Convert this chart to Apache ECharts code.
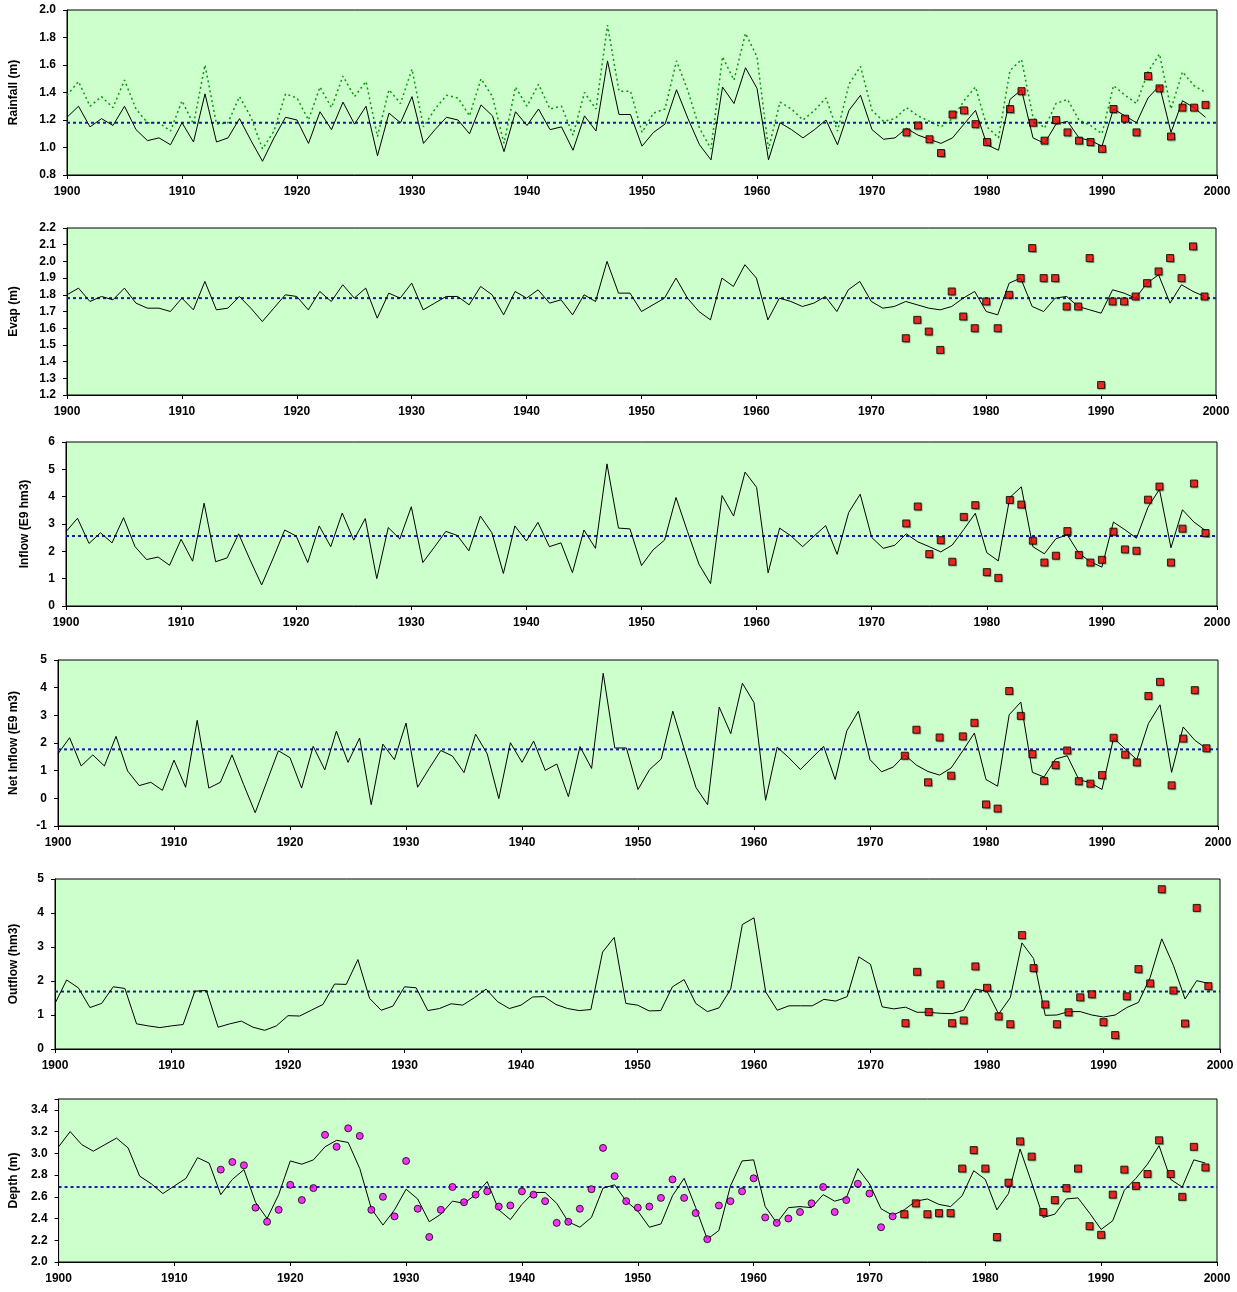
<!DOCTYPE html>
<html>
<head>
<meta charset="utf-8">
<script src="https://cdn.jsdelivr.net/npm/echarts/dist/echarts.min.js"></script>
<style>
  html, body { margin: 0; padding: 0; background: #ffffff; }
  #chart { width: 1237px; height: 1292px; }
</style>
</head>
<body>
<div id="chart"></div>
<script>
// Lake water balance, 1900-1999: modelled series (lines), observations (markers), long-term means (dotted).
const years = [];
for (let y = 1900; y <= 1999; y++) years.push(y);
const obsYears = [];
for (let y = 1973; y <= 1999; y++) obsYears.push(y);
const histDepthYears = [];
for (let y = 1914; y <= 1972; y++) histDepthYears.push(y);

// Rainfall (m)
const rainModel = [
  1.22,1.30,1.15,1.21,1.16,1.30,1.13,1.05,1.07,1.02,
  1.18,1.04,1.39,1.04,1.07,1.21,1.05,0.90,1.07,1.22,
  1.20,1.03,1.26,1.13,1.33,1.17,1.30,0.94,1.25,1.18,
  1.37,1.03,1.13,1.22,1.20,1.10,1.31,1.23,0.97,1.26,
  1.16,1.28,1.13,1.15,0.98,1.23,1.12,1.63,1.24,1.24,
  1.01,1.11,1.17,1.42,1.21,1.02,0.91,1.44,1.32,1.58,
  1.43,0.91,1.18,1.13,1.07,1.13,1.20,1.02,1.27,1.38,
  1.13,1.06,1.07,1.14,1.09,1.06,1.03,1.07,1.17,1.27,
  1.02,0.98,1.35,1.42,1.07,1.03,1.17,1.19,1.07,1.05,
  1.01,1.28,1.23,1.18,1.36,1.45,1.11,1.34,1.29,1.22
];
const rainLake = [
  1.38,1.48,1.30,1.37,1.29,1.49,1.28,1.18,1.18,1.12,
  1.34,1.17,1.60,1.17,1.18,1.37,1.22,0.99,1.12,1.39,
  1.36,1.20,1.44,1.29,1.52,1.37,1.48,1.08,1.42,1.32,
  1.57,1.15,1.28,1.38,1.36,1.23,1.50,1.37,1.03,1.44,
  1.30,1.46,1.28,1.30,1.09,1.40,1.28,1.89,1.41,1.41,
  1.11,1.25,1.28,1.63,1.41,1.14,0.99,1.66,1.49,1.83,
  1.66,0.99,1.33,1.28,1.20,1.27,1.36,1.12,1.46,1.59,
  1.27,1.19,1.21,1.29,1.23,1.19,1.15,1.21,1.34,1.44,
  1.15,1.07,1.56,1.64,1.22,1.14,1.32,1.35,1.20,1.16,
  1.10,1.45,1.38,1.32,1.55,1.68,1.28,1.55,1.45,1.40
];
const rainObs = [
  1.11,1.16,1.06,0.96,1.24,1.27,1.17,1.04,null,1.28,1.41,1.18,1.05,1.20,
  1.11,1.05,1.04,0.99,1.28,1.21,1.11,1.52,1.43,1.08,1.29,1.29,1.31
];
const rainMean = 1.18;

// Evaporation (m)
const evapModel = [
  1.80,1.84,1.76,1.79,1.77,1.84,1.75,1.72,1.72,1.70,
  1.78,1.71,1.88,1.71,1.72,1.79,1.72,1.64,1.72,1.80,
  1.79,1.71,1.82,1.76,1.86,1.78,1.84,1.66,1.81,1.78,
  1.87,1.71,1.75,1.79,1.79,1.74,1.85,1.80,1.68,1.82,
  1.78,1.83,1.75,1.77,1.68,1.80,1.76,2.00,1.81,1.81,
  1.70,1.74,1.78,1.90,1.78,1.70,1.65,1.90,1.85,1.98,
  1.90,1.65,1.78,1.76,1.73,1.75,1.79,1.70,1.83,1.88,
  1.76,1.72,1.73,1.76,1.74,1.72,1.71,1.73,1.78,1.82,
  1.70,1.68,1.87,1.90,1.73,1.70,1.78,1.79,1.73,1.71,
  1.69,1.83,1.81,1.78,1.87,1.92,1.75,1.86,1.82,1.79
];
const evapObs = [
  1.54,1.65,1.58,1.47,1.82,1.67,1.60,1.76,1.60,1.80,1.90,2.08,1.90,1.90,
  1.73,1.73,2.02,1.26,1.76,1.76,1.79,1.87,1.94,2.02,1.90,2.09,1.79
];
const evapMean = 1.78;

// Inflow (E9 hm3)
const inflowModel = [
  2.72,3.21,2.29,2.68,2.31,3.23,2.17,1.70,1.79,1.49,
  2.44,1.64,3.76,1.62,1.76,2.64,1.68,0.77,1.75,2.78,
  2.56,1.59,2.93,2.17,3.40,2.41,3.20,1.00,2.87,2.45,
  3.63,1.59,2.15,2.73,2.58,2.02,3.29,2.68,1.19,2.93,
  2.38,3.06,2.17,2.31,1.22,2.78,2.11,5.20,2.85,2.82,
  1.48,2.05,2.41,3.97,2.72,1.52,0.82,4.04,3.29,4.90,
  4.34,1.21,2.85,2.56,2.17,2.56,2.94,1.89,3.42,4.09,
  2.51,2.11,2.22,2.64,2.35,2.17,1.98,2.23,2.80,3.39,
  1.95,1.65,3.97,4.36,2.17,1.91,2.46,2.60,1.93,1.62,
  1.42,3.07,2.79,2.48,3.61,4.27,2.13,3.52,3.07,2.76
];
const inflowObs = [
  3.02,3.64,1.90,2.41,1.62,3.26,3.69,1.24,1.03,3.88,3.71,2.39,1.59,1.84,
  2.74,1.87,1.59,1.69,2.72,2.07,2.02,3.89,4.37,1.59,2.83,4.48,2.67
];
const inflowMean = 2.56;

// Net inflow (E9 m3)
const netModel = [
  1.61,2.19,1.17,1.57,1.17,2.24,0.99,0.46,0.58,0.29,
  1.38,0.40,2.82,0.37,0.58,1.57,0.50,-0.52,0.60,1.72,
  1.47,0.37,1.88,1.03,2.43,1.30,2.18,-0.23,1.96,1.40,
  2.72,0.40,1.08,1.73,1.53,0.93,2.32,1.61,-0.01,2.01,
  1.30,2.07,1.01,1.24,0.06,1.87,1.08,4.52,1.82,1.82,
  0.32,1.04,1.42,3.15,1.76,0.39,-0.23,3.30,2.34,4.16,
  3.46,-0.07,1.85,1.47,1.04,1.46,1.88,0.68,2.44,3.15,
  1.40,0.96,1.13,1.57,1.20,0.97,0.84,1.10,1.72,2.36,
  0.68,0.44,3.02,3.48,0.94,0.77,1.42,1.54,0.68,0.56,
  0.32,2.18,1.78,1.40,2.70,3.38,0.94,2.58,2.10,1.80
];
const netObs = [
  1.54,2.48,0.58,2.20,0.82,2.24,2.73,-0.22,-0.37,3.88,2.98,1.60,0.63,1.20,
  1.73,0.62,0.53,0.84,2.19,1.58,1.30,3.70,4.21,0.47,2.16,3.91,1.81
];
const netMean = 1.77;

// Outflow (hm3)
const outflowModel = [
  1.34,2.03,1.80,1.22,1.34,1.83,1.78,0.74,0.68,0.63,
  0.68,0.72,1.70,1.72,0.64,0.74,0.82,0.64,0.55,0.68,
  0.98,0.97,1.14,1.31,1.91,1.90,2.63,1.49,1.14,1.26,
  1.83,1.80,1.13,1.19,1.33,1.29,1.51,1.76,1.39,1.19,
  1.29,1.53,1.54,1.31,1.19,1.13,1.16,2.85,3.28,1.34,
  1.29,1.12,1.13,1.83,2.04,1.34,1.10,1.21,1.76,3.66,
  3.86,1.68,1.14,1.27,1.27,1.27,1.46,1.41,1.54,2.71,
  2.49,1.24,1.18,1.23,1.08,1.08,1.05,1.04,1.14,1.76,
  1.70,1.03,1.51,3.12,2.66,0.99,1.00,1.10,1.10,1.00,
  0.94,1.00,1.22,1.37,2.10,3.24,2.46,1.47,2.01,1.93
];
const outflowObs = [
  0.76,2.27,1.09,1.90,0.76,0.84,2.43,1.80,0.96,0.73,3.35,2.38,1.31,0.73,
  1.08,1.52,1.61,0.79,0.41,1.55,2.35,1.93,4.70,1.72,0.75,4.15,1.85
];
const outflowMean = 1.69;

// Lake depth (m)
const depthModel = [
  3.06,3.20,3.08,3.02,3.08,3.14,3.05,2.79,2.72,2.63,
  2.70,2.77,2.96,2.91,2.62,2.76,2.85,2.55,2.40,2.62,
  2.93,2.90,2.94,3.06,3.12,3.10,2.86,2.49,2.34,2.48,
  2.67,2.58,2.37,2.44,2.56,2.54,2.62,2.74,2.48,2.39,
  2.53,2.64,2.64,2.54,2.37,2.32,2.41,2.68,2.71,2.56,
  2.47,2.32,2.35,2.61,2.77,2.50,2.21,2.29,2.70,2.93,
  2.94,2.51,2.36,2.50,2.51,2.50,2.62,2.56,2.59,2.86,
  2.72,2.49,2.43,2.48,2.56,2.58,2.53,2.51,2.61,2.84,
  2.76,2.48,2.63,3.04,2.73,2.41,2.44,2.58,2.59,2.45,
  2.30,2.38,2.66,2.77,2.90,3.07,2.76,2.69,2.94,2.91
];
const depthHist = [
  2.85,2.92,2.89,2.50,2.37,2.48,
  2.71,2.57,2.68,3.17,3.06,3.23,3.16,2.48,2.60,2.42,
  2.93,2.49,2.23,2.48,2.69,2.55,2.62,2.65,2.51,2.52,
  2.65,2.62,2.56,2.36,2.37,2.49,2.67,3.05,2.79,2.56,
  2.50,2.51,2.59,2.76,2.59,2.45,2.21,2.52,2.56,2.65,
  2.77,2.41,2.36,2.40,2.46,2.54,2.69,2.46,2.57,2.72,
  2.63,2.32,2.42
];
const depthObs = [
  2.44,2.54,2.44,2.45,2.45,2.86,3.03,2.86,2.23,2.73,3.11,2.97,2.46,2.57,
  2.68,2.86,2.33,2.25,2.62,2.85,2.70,2.81,3.12,2.81,2.60,3.06,2.87
];
const depthMean = 2.69;

// Axis titles and scales
const axisTitles = ['Rainfall (m)', 'Evap (m)', 'Inflow (E9 hm3)', 'Net Inflow (E9 m3)', 'Outflow (hm3)', 'Depth (m)'];
const yScales = [
  { min: 0.8, max: 2.0, interval: 0.2, digits: 1 },
  { min: 1.2, max: 2.2, interval: 0.1, digits: 1 },
  { min: 0, max: 6, interval: 1, digits: 0 },
  { min: -1, max: 5, interval: 1, digits: 0 },
  { min: 0, max: 5, interval: 1, digits: 0 },
  { min: 2.0, max: 3.5, interval: 0.2, digits: 1, lastLabel: 3.4 }
];

// Panel placement in pixels
const layout = [
  { left: 65, right: 20, top: 10,   height: 165, gap: 47 },
  { left: 65, right: 21, top: 228,  height: 167, gap: 47 },
  { left: 66, right: 20, top: 442,  height: 164, gap: 35 },
  { left: 58, right: 19, top: 660,  height: 166, gap: 38 },
  { left: 55, right: 17, top: 879,  height: 170, gap: 35 },
  { left: 54, right: 20, top: 1099, height: 163, gap: 36 }
];

const FONT = '"Liberation Sans", Arial, sans-serif';
const pairs = (xs, ys) => xs.map((x, i) => [x, ys[i]]).filter(p => p[1] !== null);

const grids = [], xAxes = [], yAxes = [], series = [];

layout.forEach((L, i) => {
  grids.push({
    left: L.left, right: L.right, top: L.top, height: L.height,
    show: true, backgroundColor: '#CCFFCC', borderColor: '#000000', borderWidth: 1
  });
  xAxes.push({
    type: 'value', gridIndex: i, min: 1900, max: 2000, interval: 10,
    axisLine: { show: true, onZero: false, lineStyle: { color: '#000', width: 1 } },
    axisTick: { show: true, length: 4, lineStyle: { color: '#000' } },
    axisLabel: { color: '#000', fontFamily: FONT, fontWeight: 'bold', fontSize: 12, margin: 11,
                 formatter: v => String(v) },
    splitLine: { show: false }
  });
  const S = yScales[i];
  yAxes.push({
    type: 'value', gridIndex: i, min: S.min, max: S.max, interval: S.interval,
    name: axisTitles[i], nameLocation: 'middle', nameRotate: 90, nameGap: L.gap,
    nameTextStyle: { color: '#000', fontFamily: FONT, fontWeight: 'bold', fontSize: 12 },
    axisLine: { show: true, onZero: false, lineStyle: { color: '#000', width: 1 } },
    axisTick: { show: true, length: 4, lineStyle: { color: '#000' } },
    axisLabel: {
      color: '#000', fontFamily: FONT, fontWeight: 'bold', fontSize: 12, margin: 11,
      formatter: v => (S.lastLabel !== undefined && v > S.lastLabel + 1e-6) ? '' : v.toFixed(S.digits)
    },
    splitLine: { show: false }
  });
});

const modelLine = (i, values) => ({
  type: 'line', xAxisIndex: i, yAxisIndex: i, data: pairs(years, values),
  symbol: 'none', z: 3,
  lineStyle: { color: '#000000', width: 1 }
});
const meanLine = (i, value) => ({
  type: 'line', xAxisIndex: i, yAxisIndex: i, data: [[1900, value], [2000, value]],
  symbol: 'none', z: 2,
  lineStyle: { color: '#1A1AA8', width: 2, type: [3, 3] }
});
const squares = (i, values) => ({
  type: 'scatter', xAxisIndex: i, yAxisIndex: i, data: pairs(obsYears, values),
  symbol: 'rect', symbolSize: 7, z: 5,
  itemStyle: { color: '#FF0000', borderColor: '#000000', borderWidth: 1,
               shadowColor: 'rgba(0,0,0,0.35)', shadowBlur: 1, shadowOffsetX: 1, shadowOffsetY: 1 }
});

// Rainfall panel also carries the on-lake rainfall as a green dotted line
series.push({
  type: 'line', xAxisIndex: 0, yAxisIndex: 0, data: pairs(years, rainLake),
  symbol: 'none', z: 2,
  lineStyle: { color: '#0A960A', width: 1.5, type: [2, 3] }
});
series.push(modelLine(0, rainModel), meanLine(0, rainMean), squares(0, rainObs));
series.push(modelLine(1, evapModel), meanLine(1, evapMean), squares(1, evapObs));
series.push(modelLine(2, inflowModel), meanLine(2, inflowMean), squares(2, inflowObs));
series.push(modelLine(3, netModel), meanLine(3, netMean), squares(3, netObs));
series.push(modelLine(4, outflowModel), meanLine(4, outflowMean), squares(4, outflowObs));
series.push(modelLine(5, depthModel), meanLine(5, depthMean));
series.push({
  type: 'scatter', xAxisIndex: 5, yAxisIndex: 5, data: pairs(histDepthYears, depthHist),
  symbol: 'circle', symbolSize: 7, z: 5,
  itemStyle: { color: '#FF00FF', borderColor: '#000000', borderWidth: 1 }
});
series.push(squares(5, depthObs));

const chart = echarts.init(document.getElementById('chart'), null, { renderer: 'canvas' });
chart.setOption({
  animation: false,
  backgroundColor: '#ffffff',
  grid: grids, xAxis: xAxes, yAxis: yAxes, series: series
});
</script>
</body>
</html>
